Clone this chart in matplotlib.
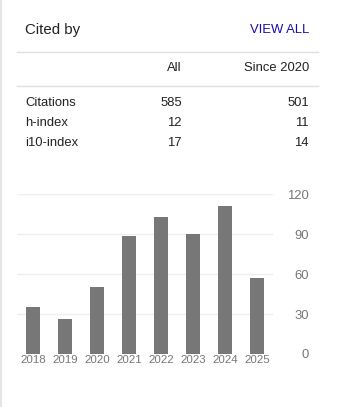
import matplotlib
matplotlib.use("Agg")
import matplotlib.pyplot as plt
from matplotlib.lines import Line2D

years = ["2018", "2019", "2020", "2021", "2022", "2023", "2024", "2025"]
citations = [35, 26, 50, 89, 103, 90, 111, 57]
yticks = [0, 30, 60, 90, 120]

row_labels = ["Citations", "h-index", "i10-index"]
col_labels = ["All", "Since 2020"]
all_vals = ["585", "12", "17"]
since_vals = ["501", "11", "14"]

W, H = 364, 407
DPI = 100
plt.rcParams['font.family'] = ['Liberation Sans', 'DejaVu Sans']
fig = plt.figure(figsize=(W / DPI, H / DPI), dpi=DPI)
fig.patch.set_facecolor('white')

def px(x, y):
    return x / W, 1 - y / H

def fs(p):
    return p * 72 / DPI

txt = '#222222'
# left border
fig.add_artist(Line2D([0.8 / W, 0.8 / W], [0, 1], transform=fig.transFigure, color='#e5e5e5', lw=1.5))

fig.text(*px(25, 30), "Cited by", ha='left', va='center', fontsize=fs(15), color=txt)
fig.text(*px(309, 30), "VIEW ALL", ha='right', va='center', fontsize=fs(13), color='#1a0dab')
for yy in (51.5, 85.5):
    fig.add_artist(Line2D([17 / W, 318 / W], [1 - yy / H] * 2, transform=fig.transFigure, color='#e0e0e0', lw=1))
fig.text(*px(182, 68), col_labels[0], ha='right', va='center', fontsize=fs(13), color=txt)
fig.text(*px(309, 68), col_labels[1], ha='right', va='center', fontsize=fs(13), color=txt)
for i, (lab, a, s) in enumerate(zip(row_labels, all_vals, since_vals)):
    y = 103 + 20 * i
    fig.text(*px(25, y), lab, ha='left', va='center', fontsize=fs(13), color=txt)
    fig.text(*px(182, y), a, ha='right', va='center', fontsize=fs(13), color=txt)
    fig.text(*px(309, y), s, ha='right', va='center', fontsize=fs(13), color=txt)

left, right, top, bottom = 17, 273, 194.3, 354
ax = fig.add_axes([left / W, 1 - bottom / H, (right - left) / W, (bottom - top) / H])
ax.set_facecolor('none')
x = list(range(len(years)))
ax.bar(x, citations, width=0.46, color='#777777', zorder=3)
ax.set_xlim(-0.5, len(years) - 0.5)
ax.set_ylim(0, 120)
ax.set_yticks(yticks)
ax.yaxis.tick_right()
ax.grid(axis='y', color='#eeeeee', lw=1, zorder=0)
for s in ax.spines.values():
    s.set_visible(False)
ax.tick_params(axis='y', length=0, pad=36 * 72 / DPI, labelsize=fs(13), labelcolor='#777777')
for lab in ax.get_yticklabels():
    lab.set_horizontalalignment('right')
ax.set_xticks(x)
ax.set_xticklabels(years)
ax.tick_params(axis='x', length=0, pad=1, labelsize=fs(11.5), labelcolor='#777777')

fig.savefig('out.png', dpi=DPI)
